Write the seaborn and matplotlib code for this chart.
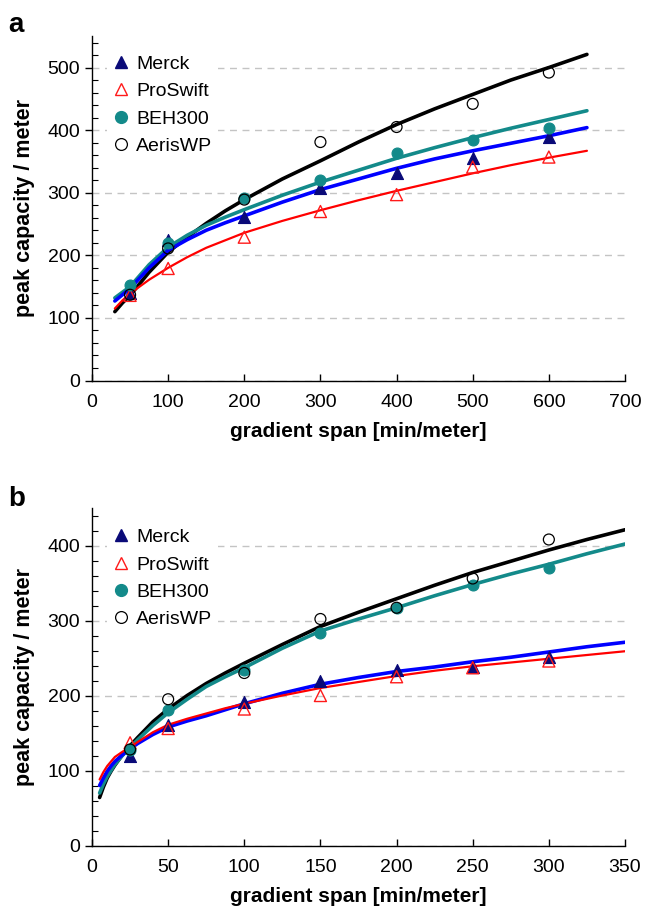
import numpy as np
import pandas as pd
import matplotlib
matplotlib.use("Agg")
import matplotlib.pyplot as plt
import seaborn as sns
from matplotlib.ticker import MultipleLocator
from matplotlib.lines import Line2D

sns.set_theme(style="white")
plt.rcParams['font.family'] = ['Liberation Sans', 'DejaVu Sans']
plt.rcParams['text.color'] = 'black'
plt.rcParams['axes.labelcolor'] = 'black'
plt.rcParams['xtick.color'] = 'black'
plt.rcParams['ytick.color'] = 'black'

columns = ["Merck", "ProSwift", "BEH300", "AerisWP"]

# ---- panel a: measured points ----
a_x = [50, 100, 200, 300, 400, 500, 600]
a_merck = [139, 225, 261, 307, 332, 356, 389]
a_proswift = [136, 179, 229, 270, 297, 341, 357]
a_beh300 = [153, 219, 291, 321, 363, 384, 404]
a_aeris = [137, 211, 289, 381, 405, 442, 492]

# ---- panel a: fitted curves ----
a_cx = [30, 40, 50, 75, 100, 125, 150, 175, 200, 250, 300, 350, 400, 450, 500, 550, 600, 650]
a_c_black = [110, 124, 136, 173, 205, 229, 251, 271, 289, 322, 351, 381, 409, 434, 457, 480, 500, 521]
a_c_teal = [132, 141, 150, 185, 213, 232, 248, 261, 273, 296, 317, 336, 355, 372, 388, 403, 417, 431]
a_c_blue = [127, 137, 147, 180, 208, 225, 240, 252, 263, 285, 305, 322, 339, 354, 367, 379, 391, 404]
a_c_red = [115, 128, 139, 161, 180, 197, 212, 224, 236, 255, 272, 288, 303, 317, 331, 344, 356, 367]

# ---- panel b: measured points ----
b_x = [25, 50, 100, 150, 200, 250, 300]
b_merck = [119, 161, 191, 219, 234, 238, 252]
b_proswift = [137, 156, 182, 200, 225, 237, 246]
b_beh300 = [127, 181, 234, 284, 317, 347, 370]
b_aeris = [128, 195, 230, 302, 317, 356, 408]

# ---- panel b: fitted curves ----
b_cx = [5, 7.5, 10, 12.5, 15, 20, 25, 30, 40, 50, 62.5, 75, 87.5, 100, 125, 150, 175, 200,
        225, 250, 275, 300, 325, 350]
b_c_black = [64, 78, 90, 99, 107, 121, 133, 144, 165, 182, 200, 216, 230, 243, 268, 292,
             311, 329, 347, 364, 379, 394, 408, 421]
b_c_teal = [70, 82, 92, 100, 108, 120, 131, 141, 160, 177, 195, 212, 225, 237, 263, 286,
            302, 317, 333, 348, 362, 375, 389, 402]
b_c_blue = [80, 90, 99, 106, 112, 121, 129, 136, 148, 158, 166, 173, 181, 189, 203, 215,
            224, 232, 238, 245, 251, 258, 265, 271]
b_c_red = [88, 98, 106, 112, 118, 125, 131, 138, 151, 161, 169, 176, 183, 189, 200, 210,
           218, 226, 233, 239, 244, 249, 254, 259]

TEAL = "#138a8a"
NAVY = "#0a0a78"

marker_styles = {
    "Merck": dict(marker="^", s=75, color=NAVY, edgecolor=NAVY, linewidth=0.8),
    "ProSwift": dict(marker="^", s=75, facecolor="none", edgecolor="#ff1a1a", linewidth=1.0),
    "BEH300": dict(marker="o", s=62, color=TEAL, edgecolor=TEAL, linewidth=0.8),
    "AerisWP": dict(marker="o", s=62, facecolor="none", edgecolor="black", linewidth=0.9),
}
line_styles = [("black", 2.6), (TEAL, 2.6), ("#0000ff", 2.6), ("#ff0000", 1.6)]


def draw(ax, xs, series, cx, curves, xlim, ylim, xmajor, ymajor, leg_y):
    for (col, lw), cy in zip(line_styles, curves):
        dfc = pd.DataFrame({"x": cx, "y": cy})
        sns.lineplot(data=dfc, x="x", y="y", ax=ax, color=col, linewidth=lw,
                     zorder=3, estimator=None, sort=False)
    order = ["Merck", "ProSwift", "BEH300", "AerisWP"]
    for name in order:
        dfp = pd.DataFrame({"x": xs, "y": series[name]})
        st = dict(marker_styles[name])
        sns.scatterplot(data=dfp, x="x", y="y", ax=ax, zorder=4, **st)
    ax.set_xlim(*xlim)
    ax.set_ylim(*ylim)
    ax.xaxis.set_major_locator(MultipleLocator(xmajor))
    ax.yaxis.set_major_locator(MultipleLocator(ymajor))
    ax.yaxis.set_minor_locator(MultipleLocator(20))
    for s in ["top", "right"]:
        ax.spines[s].set_visible(False)
    for s in ["left", "bottom"]:
        ax.spines[s].set_color("black")
        ax.spines[s].set_linewidth(1.0)
    ax.tick_params(axis="y", which="major", direction="out", length=5, width=1,
                   labelsize=14, color="black", left=True, pad=3.5)
    ax.tick_params(axis="y", which="minor", direction="in", length=4, width=0.8,
                   color="black", left=True)
    ax.tick_params(axis="x", which="major", direction="in", length=5, width=1,
                   labelsize=14, color="black", bottom=True, pad=9.5)
    ax.yaxis.grid(True, which="major", linestyle=(0, (5, 4)), color="#c4c4c4", linewidth=1.0)
    ax.xaxis.grid(False)
    ax.set_axisbelow(True)
    ax.set_xlabel("gradient span [min/meter]", fontsize=15, fontweight="bold", labelpad=8)
    ax.set_ylabel("peak capacity / meter", fontsize=15.5, fontweight="bold", labelpad=9)

    handles = [
        Line2D([], [], linestyle="none", marker="^", markersize=9, color=NAVY),
        Line2D([], [], linestyle="none", marker="^", markersize=9, markerfacecolor="none",
               markeredgecolor="#ff1a1a", markeredgewidth=1.0),
        Line2D([], [], linestyle="none", marker="o", markersize=8.5, color=TEAL),
        Line2D([], [], linestyle="none", marker="o", markersize=8.5, markerfacecolor="none",
               markeredgecolor="black", markeredgewidth=0.9),
    ]
    leg = ax.legend(handles, order, loc="upper left", bbox_to_anchor=(0.01, leg_y),
                    fontsize=14, frameon=True, facecolor="white", edgecolor="none",
                    framealpha=1.0, handlelength=0.8, handletextpad=0.4,
                    labelspacing=0.5, borderpad=0.3, fancybox=False)
    leg.set_zorder(2.5)


fig = plt.figure(figsize=(6.46, 9.15), dpi=100)
ax1 = fig.add_axes([92 / 646, 1 - 380.5 / 915, 533 / 646, 344.25 / 915])
ax2 = fig.add_axes([92 / 646, 1 - 845.5 / 915, 533 / 646, 337.5 / 915])

draw(ax1, a_x,
     {"Merck": a_merck, "ProSwift": a_proswift, "BEH300": a_beh300, "AerisWP": a_aeris},
     a_cx, [a_c_black, a_c_teal, a_c_blue, a_c_red], (0, 700), (0, 550), 100, 100, 0.99)
draw(ax2, b_x,
     {"Merck": b_merck, "ProSwift": b_proswift, "BEH300": b_beh300, "AerisWP": b_aeris},
     b_cx, [b_c_black, b_c_teal, b_c_blue, b_c_red], (0, 350), (0, 450), 50, 100, 0.985)

fig.text(8 / 646, 1 - 31.7 / 915, "a", fontsize=20, fontweight="bold", va="baseline", ha="left")
fig.text(8 / 646, 1 - 506 / 915, "b", fontsize=20, fontweight="bold", va="baseline", ha="left")

fig.savefig("out.png", dpi=100, facecolor="white")
